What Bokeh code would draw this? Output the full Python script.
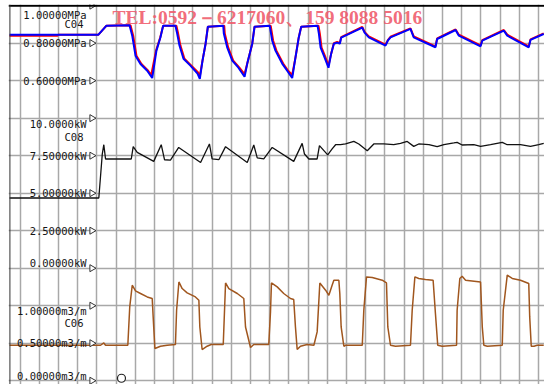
import numpy as np
from bokeh.plotting import figure
from bokeh.models import Range1d, FixedTicker, Span, ColumnDataSource, Grid
from bokeh.core.properties import value
from bokeh.embed import file_html
from bokeh.resources import INLINE

# ---------------- data (time in s, 10 s per grid division) ----------------
c04_blue_t = [-5.5, 40.8, 45.0, 57.0, 58.4, 60.1, 62.7, 66.2, 68.8, 71.0, 73.1, 74.5,
              80.9, 81.8, 83.0, 85.1, 88.7, 92.4, 93.6, 95.0, 96.6, 97.8,
              105.8, 106.1, 107.9, 110.5, 113.7, 116.9, 118.3, 120.9, 122.1,
              130.0, 131.3, 133.0, 136.5, 139.1, 141.7, 143.4, 145.1, 146.4,
              154.9, 155.6, 156.5, 158.2, 160.6, 162.0, 163.4, 165.1, 166.5, 167.2,
              178.2, 179.4, 181.6, 190.3, 191.5, 192.9,
              203.3, 205.0, 216.3, 217.2,
              226.8, 228.5, 239.8, 240.7,
              251.9, 253.7, 264.9, 265.8, 272.7]
c04_blue_v = [0.845, 0.845, 0.893, 0.896, 0.840, 0.733, 0.689, 0.653, 0.614, 0.760, 0.831, 0.893,
              0.893, 0.851, 0.787, 0.717, 0.680, 0.637, 0.609, 0.707, 0.797, 0.888,
              0.893, 0.851, 0.776, 0.707, 0.669, 0.621, 0.691, 0.797, 0.888,
              0.893, 0.813, 0.760, 0.691, 0.653, 0.614, 0.723, 0.829, 0.888,
              0.893, 0.851, 0.776, 0.733, 0.669, 0.744, 0.797, 0.803, 0.797, 0.829,
              0.883, 0.856, 0.831, 0.787, 0.813, 0.831,
              0.876, 0.831, 0.778, 0.822,
              0.870, 0.840, 0.783, 0.813,
              0.867, 0.840, 0.778, 0.817, 0.849]

c04_red_t = [-5.5, 19.5, 20.0, 40.8, 45.0, 57.5, 58.9, 60.6, 63.2, 66.7, 68.3, 70.8, 73.0, 74.5,
             81.4, 82.3, 83.5, 85.6, 89.2, 92.6, 93.6, 95.0, 96.6, 97.8,
             106.3, 106.6, 108.4, 111.0, 114.2, 116.9, 118.3, 120.9, 122.1,
             130.5, 131.8, 133.5, 137.0, 139.6, 141.7, 143.4, 145.1, 146.4,
             155.4, 156.1, 157.0, 158.7, 160.6, 162.0, 163.4, 165.1, 166.5, 167.2,
             178.2, 179.4, 181.6, 190.3, 191.5, 192.9,
             203.3, 205.0, 216.3, 217.2,
             226.8, 228.5, 239.8, 240.7,
             251.9, 253.7, 264.9, 265.8, 272.7]
c04_red_v = [0.840, 0.840, 0.845, 0.845, 0.893, 0.896, 0.840, 0.733, 0.689, 0.653, 0.630, 0.760, 0.831, 0.893,
             0.893, 0.851, 0.787, 0.717, 0.680, 0.645, 0.625, 0.707, 0.797, 0.888,
             0.893, 0.851, 0.776, 0.707, 0.669, 0.635, 0.691, 0.797, 0.888,
             0.893, 0.813, 0.760, 0.691, 0.653, 0.630, 0.723, 0.829, 0.888,
             0.893, 0.851, 0.776, 0.733, 0.680, 0.744, 0.800, 0.807, 0.800, 0.832,
             0.886, 0.860, 0.836, 0.792, 0.816, 0.834,
             0.879, 0.836, 0.783, 0.825,
             0.873, 0.845, 0.788, 0.816,
             0.870, 0.845, 0.783, 0.820, 0.852]

c08_t = [-5.5, 41.0, 42.8, 43.6, 44.5, 57.9, 58.9, 61.0, 69.6, 73.5, 75.2, 78.3, 82.6, 94.0,
         98.6, 100.0, 103.5, 107.0, 118.3, 121.7, 123.5, 126.9, 131.3, 142.5, 146.9, 148.1,
         150.4, 154.7, 155.9, 160.2, 162.5, 164.3, 166.9, 169.5, 173.8, 176.4, 180.8, 184.2,
         189.4, 194.6, 198.1, 201.6, 205.0, 207.6, 212.9, 217.2, 220.7, 225.9, 227.6, 230.2,
         236.3, 239.8, 245.0, 251.1, 253.7, 260.6, 265.8, 270.1, 272.7]
c08_v = [4.68, 4.68, 7.61, 8.23, 7.28, 7.28, 8.10, 7.72, 7.12, 8.23, 7.23, 7.21, 8.05, 7.05,
         8.28, 7.28, 7.23, 8.10, 7.05, 8.21, 7.35, 7.28, 8.05, 7.12, 8.32, 7.61,
         7.28, 7.28, 8.17, 7.55, 7.95, 8.23, 8.23, 8.28, 8.45, 8.28, 7.83, 8.28,
         8.28, 8.23, 8.32, 8.45, 8.12, 8.28, 8.23, 8.10, 8.23, 8.35, 8.39, 8.21,
         8.23, 8.12, 8.23, 8.39, 8.23, 8.23, 8.12, 8.23, 8.32]

c06_t = [-5.5, 41.9, 43.6, 44.5, 56.1, 57.1, 58.4, 60.1, 62.7, 66.2, 68.8, 69.3, 70.2, 73.1,
         76.6, 80.9, 81.5, 82.7, 84.4, 87.0, 91.3, 93.1, 93.6, 94.8, 97.4, 99.5, 105.8, 107.0,
         108.7, 113.1, 116.5, 117.4, 120.0, 121.7, 129.5, 130.4, 130.9, 133.9, 137.3, 140.8,
         142.5, 143.4, 144.3, 146.0, 149.5, 153.0, 154.7, 156.1, 159.1, 160.8, 162.5, 163.4,
         166.0, 166.5, 167.2, 168.6, 169.5, 178.2, 179.0, 180.4, 183.4, 188.6, 190.8, 191.5,
         192.9, 195.5, 203.3, 204.2, 205.6, 207.6, 211.1, 215.1, 216.3, 217.5, 219.8, 227.3,
         227.6, 229.0, 230.2, 232.0, 239.8, 240.7, 241.5, 243.3, 251.1, 251.6, 253.7, 256.3,
         260.6, 264.9, 265.4, 266.2, 267.6, 269.3, 272.7]
c06_v = [0.473, 0.473, 0.504, 0.473, 0.473, 0.984, 1.273, 1.197, 1.163, 1.117, 1.096, 0.851, 0.429, 0.460,
         0.473, 0.483, 0.940, 1.317, 1.229, 1.171, 1.117, 1.073, 0.717, 0.416, 0.460, 0.483, 0.483, 1.304,
         1.229, 1.163, 1.096, 0.717, 0.443, 0.483, 0.483, 0.917, 1.304, 1.251, 1.163, 1.096,
         1.083, 0.717, 0.416, 0.460, 0.483, 0.473, 0.651, 1.304, 1.207, 1.140, 1.273, 1.340,
         1.340, 1.163, 0.717, 0.460, 0.473, 0.473, 0.940, 1.384, 1.376, 1.340, 1.304, 0.717,
         0.473, 0.460, 0.473, 0.940, 1.384, 1.363, 1.349, 1.340, 0.896, 0.473, 0.460, 0.473,
         0.940, 1.363, 1.393, 1.340, 1.317, 0.717, 0.473, 0.460, 0.473, 0.940, 1.407, 1.363,
         1.340, 1.296, 0.851, 0.460, 0.460, 0.473, 0.473]

event_t = [52.8]
event_v = [0.033]

mpa_ticks = [1.0, 0.8, 0.6]
mpa_labels = ["1.00000MPa", "0.80000MPa", "0.60000MPa"]
kw_ticks = [10.0, 7.5, 5.0, 2.5, 0.0]
kw_labels = ["10.0000kW", "7.50000kW", "5.00000kW", "2.50000kW", "0.00000kW"]
m3_ticks = [1.0, 0.5, 0.0]
m3_labels = ["1.00000m3/m", "0.50000m3/m", "0.00000m3/m"]
channel_names = ["C04", "C08", "C06"]
watermark = "TEL:0592\uff0d6217060\u3001159 8088 5016"

# ---------------- figure ----------------
p = figure(width=544, height=384,
           x_range=Range1d(-6.04, 273.1), y_range=Range1d(-0.1, 10.03),
           x_axis_location=None, y_axis_location=None,
           output_backend="svg", toolbar_location=None,
           min_border_left=8, min_border_right=0, min_border_top=4, min_border_bottom=0)
p.outline_line_color = None
p.background_fill_color = "white"
p.border_fill_color = "white"
p.extra_y_ranges = {"mpa": Range1d(-1.02, 1.006),
                    "kw": Range1d(-7.75, 17.575),
                    "m3": Range1d(-0.05, 5.015)}

p.center = []
grid_color = "#A8A8A8"
p.add_layout(Grid(dimension=0, ticker=FixedTicker(ticks=list(range(0, 280, 10))),
                  grid_line_color=grid_color, grid_line_width=1.5))
p.add_layout(Grid(dimension=1, ticker=FixedTicker(ticks=list(range(0, 10))),
                  grid_line_color=grid_color, grid_line_width=1.5))
p.add_layout(Span(location=10, dimension="width", line_color="black", line_width=2))
p.add_layout(Span(location=-5.3, dimension="height", line_color="#333333", line_width=1))

# watermark
p.text(x=[48.1], y=[9.68], text=[watermark], text_font=value("Liberation Serif"),
       text_font_style="bold", text_font_size="19.5px", text_color="#F05A6A",
       text_alpha=0.9, text_baseline="middle", text_align="left")

# series
p.line(c04_red_t, c04_red_v, y_range_name="mpa", line_color="#FF0000", line_width=2)
p.line(c04_blue_t, c04_blue_v, y_range_name="mpa", line_color="#0000FF", line_width=2)
p.line(c08_t, c08_v, y_range_name="kw", line_color="#111111", line_width=1.3)
p.line(c06_t, c06_v, y_range_name="m3", line_color="#A0561E", line_width=1.5)

p.scatter(event_t, event_v, y_range_name="m3", marker="circle", size=8,
          fill_color="white", line_color="#222222", line_width=1.2)

lab_font = value("DejaVu Sans Mono")
lab_color = "#151515"
lab_x = 34.6
tri_x = 37.4


def panel_labels(ticks, labels, offsets, rng):
    src = ColumnDataSource(dict(x=[lab_x] * len(ticks), y=ticks, text=labels, dy=offsets))
    p.text(x="x", y="y", text="text", y_offset="dy", source=src, y_range_name=rng,
           text_font=lab_font, text_font_size="10.5px", text_color=lab_color,
           text_align="right", text_baseline="middle")
    p.scatter(x=[tri_x] * len(ticks), y=ticks, y_range_name=rng, marker="triangle",
              angle=-np.pi / 2, size=7, fill_color="white", line_color="#333333", line_width=1)


panel_labels(mpa_ticks, mpa_labels, [9, 0, 0], "mpa")
panel_labels(kw_ticks, kw_labels, [6, 0, 0, 0, -5.5], "kw")
panel_labels(m3_ticks, m3_labels, [5.5, 0, -4.5], "m3")

p.text(x=[33.0], y=[0.9], text=[channel_names[0]], y_range_name="mpa", text_font=lab_font,
       text_font_size="10.5px", text_color=lab_color, text_align="right", text_baseline="middle")
p.text(x=[33.0], y=[8.75], text=[channel_names[1]], y_range_name="kw", text_font=lab_font,
       text_font_size="10.5px", text_color=lab_color, text_align="right", text_baseline="middle")
p.text(x=[33.0], y=[0.765], text=[channel_names[2]], y_range_name="m3", text_font=lab_font,
       text_font_size="10.5px", text_color=lab_color, text_align="right", text_baseline="middle")

open("out.html", "w").write(file_html(p, INLINE))
